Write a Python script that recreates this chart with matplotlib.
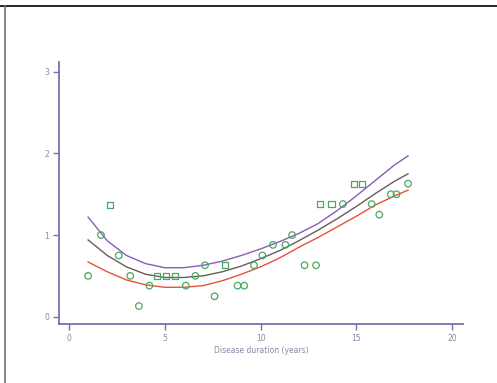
import numpy as np
import matplotlib
matplotlib.use('Agg')
import matplotlib.pyplot as plt
from matplotlib.lines import Line2D

# observed points (disease duration vs score)
circ_x = [1.0, 1.67, 2.6, 3.2, 3.65, 4.2, 6.1, 6.6, 7.1, 7.6, 8.8, 9.15, 9.66,
          10.1, 10.65, 11.3, 11.65, 12.3, 12.9, 14.3, 15.8, 16.2, 16.8, 17.1, 17.7]
circ_y = [0.50, 1.00, 0.75, 0.50, 0.13, 0.38, 0.38, 0.50, 0.63, 0.25, 0.38, 0.38, 0.63,
          0.75, 0.88, 0.88, 1.00, 0.63, 0.63, 1.38, 1.38, 1.25, 1.50, 1.50, 1.63]
sq_x = [2.14, 4.6, 5.07, 5.55, 8.15, 13.1, 13.7, 14.9, 15.3]
sq_y = [1.37, 0.50, 0.50, 0.50, 0.63, 1.38, 1.38, 1.63, 1.63]

# fitted curves
curve_x = [1.0, 2.0, 3.0, 4.0, 5.0, 6.0, 7.0, 8.0, 9.0, 10.0, 11.0, 12.0,
           13.0, 14.0, 15.0, 16.0, 17.0, 17.7]
upper = [1.22, 0.93, 0.75, 0.65, 0.60, 0.60, 0.63, 0.68, 0.75, 0.83, 0.92, 1.02,
         1.14, 1.30, 1.48, 1.67, 1.86, 1.97]
middle = [0.94, 0.75, 0.61, 0.52, 0.48, 0.48, 0.50, 0.55, 0.62, 0.71, 0.81, 0.93,
          1.06, 1.20, 1.35, 1.51, 1.66, 1.75]
lower = [0.67, 0.55, 0.45, 0.39, 0.36, 0.36, 0.38, 0.44, 0.52, 0.61, 0.72, 0.85,
         0.97, 1.10, 1.23, 1.37, 1.48, 1.55]

axcol = '#7a70a8'
txtcol = '#8a86a8'

fig = plt.figure(figsize=(4.97, 3.83), dpi=100)
ax = fig.add_axes([0.1187, 0.154, 0.8129, 0.684])

ax.plot(curve_x, upper, color='#8a5cb8', lw=1.0)
ax.plot(curve_x, middle, color='#6a5a5a', lw=1.0)
ax.plot(curve_x, lower, color='#e8503a', lw=1.0)

ax.scatter(circ_x, circ_y, marker='o', s=22, facecolors='none',
           edgecolors='#4aa860', linewidths=0.9, zorder=3)
ax.scatter(sq_x, sq_y, marker='s', s=20, facecolors='none',
           edgecolors='#4aa860', linewidths=0.9, zorder=3)

ax.set_xlim(-0.52, 20.57)
ax.set_ylim(-0.09, 3.12)
ax.set_xticks([0, 5, 10, 15, 20])
ax.set_yticks([0, 1, 2, 3])
ax.set_xlabel('Disease duration (years)', fontsize=5.5, color=txtcol, labelpad=2)

for s in ['top', 'right']:
    ax.spines[s].set_visible(False)
for s in ['left', 'bottom']:
    ax.spines[s].set_color(axcol)
    ax.spines[s].set_linewidth(1.3)
ax.tick_params(colors=axcol, labelcolor=txtcol, labelsize=5.5, length=4,
               width=1.0, pad=3)

# outer frame lines (top and left)
fig.add_artist(Line2D([0.0, 1.0], [0.985, 0.985], transform=fig.transFigure,
                      color='black', lw=1.2))
fig.add_artist(Line2D([0.011, 0.011], [0.0, 0.985], transform=fig.transFigure,
                      color='#707070', lw=1.2))

plt.savefig('out.png', dpi=100)
